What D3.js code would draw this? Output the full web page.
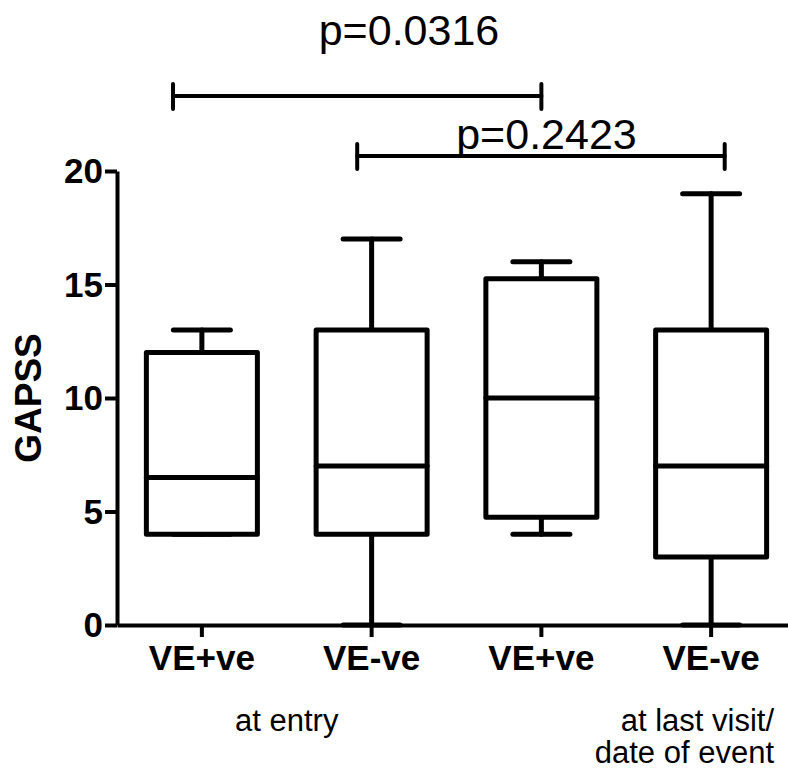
<!DOCTYPE html>
<html>
<head>
<meta charset="utf-8">
<script src="https://cdn.jsdelivr.net/npm/d3@7"></script>
<style>
  html, body { margin: 0; padding: 0; background: #fff; }
  svg { display: block; }
  text { font-family: "Liberation Sans", Arial, sans-serif; fill: #000; }
</style>
</head>
<body>
<svg id="chart" width="788" height="772"></svg>
<script>
// Box-and-whisker summary of GAPSS per group
const groups       = ["VE+ve", "VE-ve", "VE+ve", "VE-ve"];
const whiskerLow   = [4, 0, 4, 0];
const q1           = [4, 4, 4.75, 3];
const median       = [6.5, 7, 10, 7];
const q3           = [12, 13, 15.25, 13];
const whiskerHigh  = [13, 17, 16, 19];
const yTicks       = [0, 5, 10, 15, 20];
const timepointLabels = [["at entry"], ["at last visit/", "date of event"]];
const pValueLabels = ["p=0.0316", "p=0.2423"];

const svg = d3.select("#chart");
const ink = "#000";

const y = d3.scaleLinear().domain([0, 20]).range([625, 171]);
const x = d3.scaleBand().domain(d3.range(groups.length)).range([117, 796]).padding(0);
const cx = i => x(i) + x.bandwidth() / 2;
// fractional position along the group axis (used for annotations)
const xi = d3.scaleLinear().domain([0, groups.length - 1]).range([cx(0), cx(groups.length - 1)]);

const boxW = 111, capW = 57, sw = 5;

// boxes
const g = svg.append("g")
  .attr("fill", "none").attr("stroke", ink).attr("stroke-width", sw)
  .attr("stroke-linejoin", "round").attr("stroke-linecap", "round");

groups.forEach((_, i) => {
  const c = cx(i);
  // whiskers
  g.append("line").attr("x1", c).attr("x2", c).attr("y1", y(q3[i])).attr("y2", y(whiskerHigh[i]));
  g.append("line").attr("x1", c).attr("x2", c).attr("y1", y(q1[i])).attr("y2", y(whiskerLow[i]));
  g.append("line").attr("x1", c - capW / 2).attr("x2", c + capW / 2)
    .attr("y1", y(whiskerHigh[i])).attr("y2", y(whiskerHigh[i]));
  g.append("line").attr("x1", c - capW / 2).attr("x2", c + capW / 2)
    .attr("y1", y(whiskerLow[i])).attr("y2", y(whiskerLow[i]));
  // box
  g.append("rect").attr("x", c - boxW / 2).attr("width", boxW)
    .attr("y", y(q3[i])).attr("height", y(q1[i]) - y(q3[i])).attr("fill", "#fff");
  // median
  g.append("line").attr("x1", c - boxW / 2).attr("x2", c + boxW / 2)
    .attr("y1", y(median[i])).attr("y2", y(median[i]));
});

// y axis
const yAxis = svg.append("g").attr("transform", `translate(${x.range()[0]},0)`)
  .call(d3.axisLeft(y).tickValues(yTicks).tickSize(12).tickPadding(2).tickSizeOuter(0));
yAxis.select(".domain").attr("stroke", ink).attr("stroke-width", 4);
yAxis.selectAll(".tick line").attr("stroke", ink).attr("stroke-width", 4);
yAxis.selectAll(".tick text").attr("font-size", 35).attr("font-weight", "bold")
  .attr("font-family", "'Liberation Sans', Arial, sans-serif").attr("fill", ink).attr("dy", "0.34em");

// x axis
const xAxis = svg.append("g").attr("transform", `translate(0,${y(0)})`)
  .call(d3.axisBottom(x).tickFormat(i => groups[i]).tickSize(12).tickPadding(8).tickSizeOuter(0));
xAxis.select(".domain").attr("stroke", ink).attr("stroke-width", 4);
xAxis.selectAll(".tick line").attr("stroke", ink).attr("stroke-width", 4);
xAxis.selectAll(".tick text").attr("font-size", 35).attr("font-weight", "bold")
  .attr("font-family", "'Liberation Sans', Arial, sans-serif").attr("fill", ink).attr("dy", "0.71em");

// y axis title
svg.append("text")
  .attr("transform", `translate(41,${y(10)}) rotate(-90)`)
  .attr("text-anchor", "middle")
  .attr("font-size", 37).attr("font-weight", "bold")
  .text("GAPSS");

// time-point captions under the group labels
svg.append("text")
  .attr("x", (cx(0) + cx(1)) / 2).attr("y", 731)
  .attr("text-anchor", "middle").attr("font-size", 31)
  .text(timepointLabels[0][0]);
const t2 = svg.append("text").attr("text-anchor", "end").attr("font-size", 31);
timepointLabels[1].forEach((line, k) => {
  t2.append("tspan").attr("x", 774).attr("y", 731 + k * 32).text(line);
});

// significance brackets
const brackets = [
  { from: -0.17, to: 2.0,  level: 23.3,  label: pValueLabels[0], lx: 1.22, ly: 25.55 },
  { from: 0.915, to: 3.08, level: 20.66, label: pValueLabels[1], lx: 2.03, ly: 20.95 }
];
const bg = svg.append("g").attr("stroke", ink).attr("stroke-width", 4).attr("stroke-linecap", "round");
brackets.forEach(b => {
  const yy = y(b.level);
  bg.append("line").attr("x1", xi(b.from)).attr("x2", xi(b.to)).attr("y1", yy).attr("y2", yy);
  bg.append("line").attr("x1", xi(b.from)).attr("x2", xi(b.from)).attr("y1", yy - 12).attr("y2", yy + 13);
  bg.append("line").attr("x1", xi(b.to)).attr("x2", xi(b.to)).attr("y1", yy - 12).attr("y2", yy + 13);
  svg.append("text").attr("x", xi(b.lx)).attr("y", y(b.ly))
    .attr("text-anchor", "middle").attr("font-size", 43).text(b.label);
});
</script>
</body>
</html>
